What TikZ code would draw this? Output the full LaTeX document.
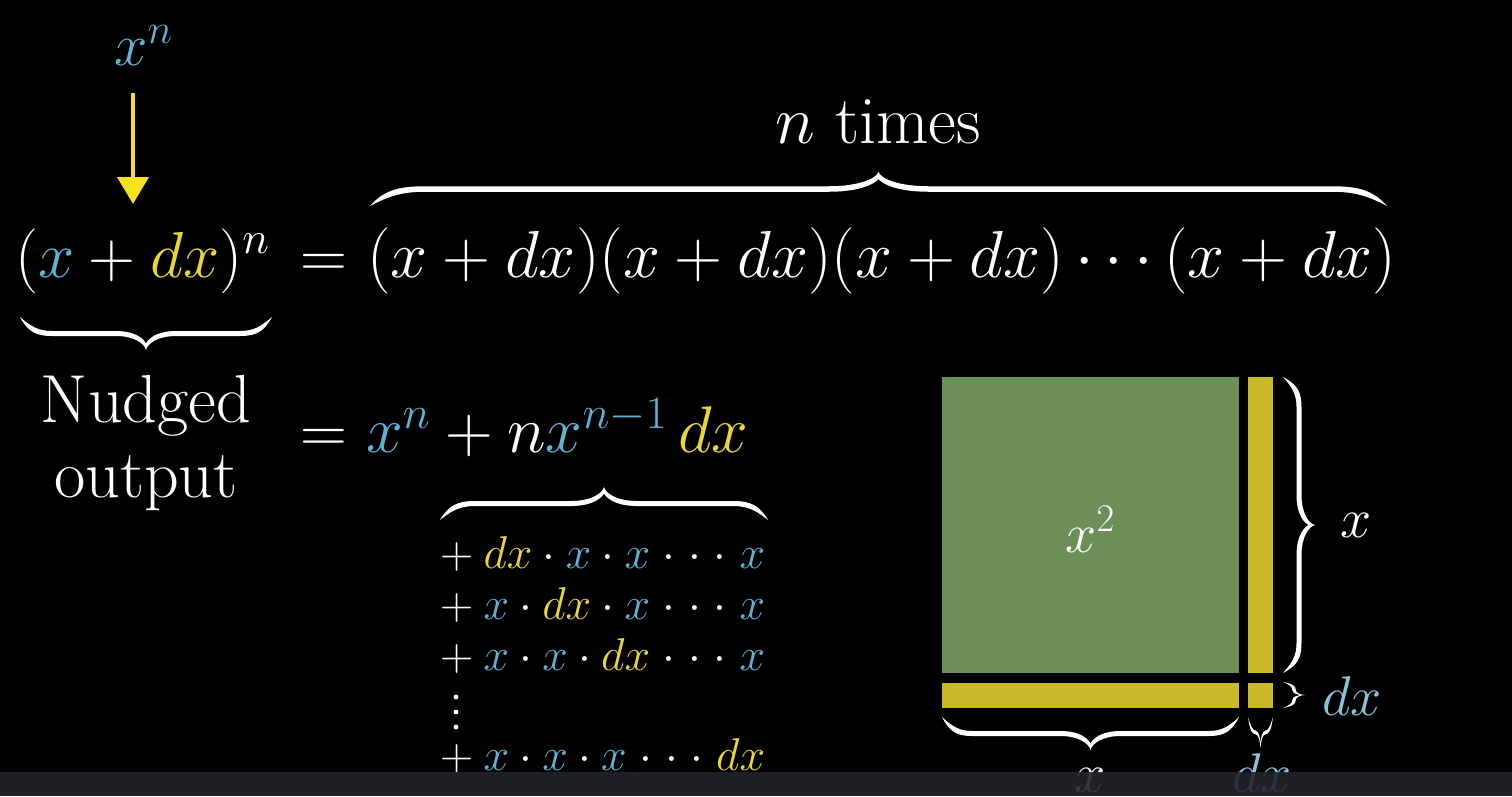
\documentclass[tikz,border=0pt]{standalone}
\usepackage{fix-cm}
\usetikzlibrary{arrows.meta}
\definecolor{xblue}{HTML}{5DB3D5}
\definecolor{dxyel}{HTML}{EBD634}
\definecolor{arryel}{HTML}{F6E21E}
\definecolor{sqgreen}{HTML}{6B8F56}
\definecolor{stripyel}{HTML}{C9B928}
\definecolor{lblue}{HTML}{8CC3DB}
\definecolor{barcol}{HTML}{21252B}
\newcommand{\fs}[1]{\fontsize{#1}{#1}\selectfont}
\newcommand{\bx}{\textcolor{xblue}{x}}
\newcommand{\bdx}{\textcolor{dxyel}{dx}}
\newcommand{\cdd}{\mkern5mu{\cdot}\mkern5mu{\cdot}\mkern5mu{\cdot}\mkern5mu}
% #1 transform, #2 length, #3 height, #4 curl width, #5 tip width, #6 thickness
\newcommand{\mybrace}[6]{%
\begin{scope}[#1]
\fill[white]
 (0,0) .. controls ({0.25*#4},{-0.45*#3}) and ({0.5*#4},{-0.5*#3-#6/2}) .. ({#4},{-0.5*#3-#6/2})
 -- ({#2/2-#5},{-0.5*#3-#6/2})
 .. controls ({#2/2-0.4*#5},{-0.5*#3-#6/2}) and ({#2/2-0.05*#5},{-0.8*#3}) .. ({#2/2},{-#3})
 .. controls ({#2/2+0.05*#5},{-0.8*#3}) and ({#2/2+0.4*#5},{-0.5*#3-#6/2}) .. ({#2/2+#5},{-0.5*#3-#6/2})
 -- ({#2-#4},{-0.5*#3-#6/2})
 .. controls ({#2-0.5*#4},{-0.5*#3-#6/2}) and ({#2-0.25*#4},{-0.45*#3}) .. (#2,0)
 .. controls ({#2-0.35*#4},{-0.3*#3}) and ({#2-0.6*#4},{-0.5*#3+#6/2}) .. ({#2-#4},{-0.5*#3+#6/2})
 -- ({#2/2+#5},{-0.5*#3+#6/2})
 .. controls ({#2/2+0.3*#5},{-0.5*#3+#6/2}) and ({#2/2+0.05*#5},{-0.7*#3}) .. ({#2/2},{-#3+1.3*#6})
 .. controls ({#2/2-0.05*#5},{-0.7*#3}) and ({#2/2-0.3*#5},{-0.5*#3+#6/2}) .. ({#2/2-#5},{-0.5*#3+#6/2})
 -- ({#4},{-0.5*#3+#6/2})
 .. controls ({0.6*#4},{-0.5*#3+#6/2}) and ({0.35*#4},{-0.3*#3}) .. cycle;
\end{scope}}
\tikzset{
 txt/.style={inner sep=0pt, text=white, anchor=base west},
 big/.style={txt, font=\fs{65}},
 words/.style={txt, anchor=base, font=\fs{68}},
 mid/.style={txt, font=\fs{56}},
 small/.style={txt, font=\fs{46}},
 yarrow/.style={draw=arryel, line width=4pt, -{Triangle[width=31pt,length=27pt,fill=arryel]}}
}
\begin{document}
\begin{tikzpicture}[x=1pt,y=-1pt]
\fill[black] (0,0) rectangle (1512,796);
\useasboundingbox (0,0) rectangle (1512,796);

% top label and arrow
\node[mid, text=xblue, font=\fs{60}] (xn) at (114,65) {$x^n$};
\coordinate (arrtip) at (133,204);
\path (xn.south) ++(0,28) coordinate (arrstart);
\draw[yarrow] (arrstart -| arrtip) -- (arrtip);

% main equation
\node[big] (lhs) at (15,277) {$(\bx+\bdx)^n$};
\node[big] (eqa) at (300,277) {$=$};
\node[big, font=\fs{66.5}] (rhs) at (367,277) {$(x+dx)(x+dx)(x+dx)\cdots(x+dx)$};
\node[words] (ntimes) at (878,143) {$n$ times};
\mybrace{shift={(370,206)}}{1017}{34}{55}{50}{5.5}
\mybrace{shift={(272,317)}, rotate=180}{252}{33}{32}{30}{5}

% nudged output
\node[words] (nud1) at (146,422) {Nudged};
\node[words] (nud2) at (146,497) {output};

% expansion
\node[big] (eqb) at (300,452) {$=$};
\node[big, font=\fs{66}] (expan) at (366,452) {$\textcolor{xblue}{x^n}+n\textcolor{xblue}{x^{n-1}}\,\bdx$};
\mybrace{shift={(440,520)}}{328}{33}{35}{33}{5}

% list
\node[small] (r1) at (440,568) {$+\:\bdx\cdot\bx\cdot\bx\cdd\bx$};
\node[small] (r2) at (440,619) {$+\:\bx\cdot\bdx\cdot\bx\cdd\bx$};
\node[small] (r3) at (440,670) {$+\:\bx\cdot\bx\cdot\bdx\cdd\bx$};
\fill[white] (456,697) circle (2.4) (456,712) circle (2.4) (456,727) circle (2.4);
\node[small] (r5) at (440,770) {$+\:\bx\cdot\bx\cdot\bx\cdd\bdx$};

% square diagram
\fill[sqgreen] (942,377) rectangle (1239,673);
\fill[stripyel] (1248,377) rectangle (1273,673);
\fill[stripyel] (942,683) rectangle (1239,708);
\fill[stripyel] (1248,683) rectangle (1273,708);
\node[mid, anchor=base] (xsq) at (1090,552) {$x^2$};
\mybrace{shift={(1283,377)}, rotate=-90}{296}{32}{30}{30}{5}
\node[mid] (xr) at (1340,537) {$x$};
\mybrace{shift={(1283,682)}, rotate=-90}{26}{22}{8}{5}{3.5}
\node[mid, text=lblue] (dxr) at (1322,715) {$dx$};
\mybrace{shift={(1239,717)}, rotate=180}{297}{33}{30}{30}{5}
\mybrace{shift={(1273,717)}, rotate=180}{25}{31}{8}{5}{3.5}
\node[mid, anchor=base] (xb) at (1090,792) {$x$};
\node[mid, anchor=base, text=lblue] (dxb) at (1262,792) {$dx$};

% player bar
\fill[barcol, opacity=0.9] (0,772) rectangle (1512,796);
\end{tikzpicture}
\end{document}
